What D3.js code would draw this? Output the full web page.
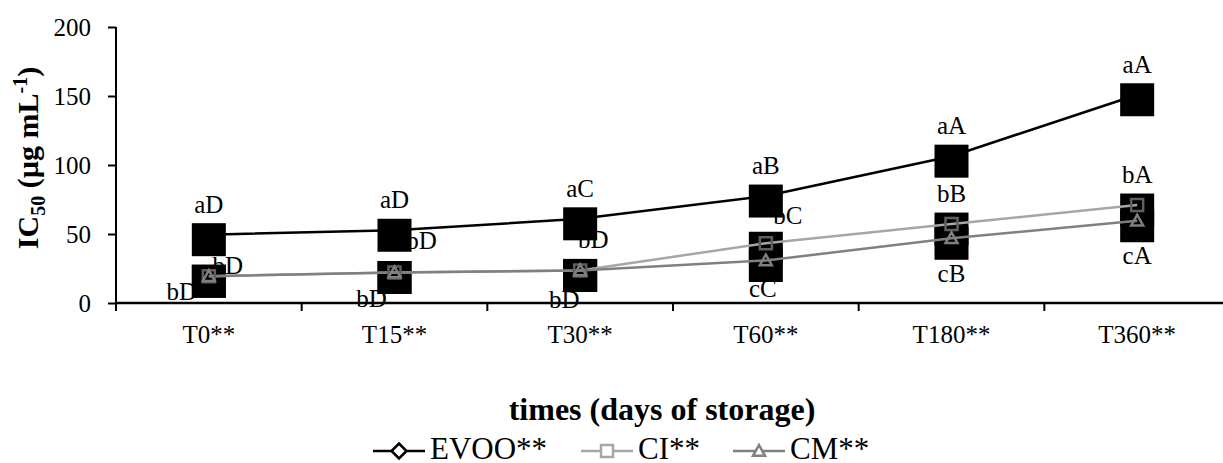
<!DOCTYPE html>
<html>
<head>
<meta charset="utf-8">
<script src="https://cdn.jsdelivr.net/npm/d3@7"></script>
<style>
  body { margin: 0; background: #fff; }
  text { font-family: "Times New Roman", "Liberation Serif", serif; fill: #000; }
</style>
</head>
<body>
<svg id="chart" width="1223" height="463"></svg>
<script>
// data
var categories = ["T0**", "T15**", "T30**", "T60**", "T180**", "T360**"];
var evoo = [49.5, 52.7, 61.0, 77.5, 106.4, 150.9];
var ci   = [19.4, 22.1, 23.6, 43.3, 57.2, 71.0];
var cm   = [19.4, 22.1, 23.6, 30.8, 46.9, 59.6];
var evooLetters = ["aD", "aD", "aC", "aB", "aA", "aA"];
var ciLetters   = ["bD", "bD", "bD", "bC", "bB", "bA"];
var cmLetters   = ["bD", "bD", "bD", "cC", "cB", "cA"];
var yTicks = [0, 50, 100, 150, 200];
var seriesNames = ["EVOO**", "CI**", "CM**"];

// label nudges (px), like the hand-moved labels in the original
var evooNudge = [[0,-22],[0,-22],[0,-22],[0,-22],[0,-22],[0,-22]];
var ciNudge   = [[19,-2],[27,-24],[13,-22],[22,-19],[0,-22],[0,-22]];
var cmNudge   = [[-27,24],[-23,34],[-16,38],[-3,37],[0,44],[0,43]];

var svg = d3.select("#chart");
var plotLeft = 116, plotRight = 1230, plotTop = 27, plotBottom = 303;

var x = d3.scaleBand().domain(categories).range([plotLeft, plotRight]).padding(0);
var y = d3.scaleLinear().domain([0, 200]).range([plotBottom, plotTop]);
var cx = function(i){ return x(categories[i]) + x.bandwidth()/2; };

var series = [
  {name: seriesNames[0], values: evoo, letters: evooLetters, nudge: evooNudge, color: "#000000", marker: "diamond"},
  {name: seriesNames[1], values: ci,   letters: ciLetters,   nudge: ciNudge,   color: "#a6a6a6", marker: "square"},
  {name: seriesNames[2], values: cm,   letters: cmLetters,   nudge: cmNudge,   color: "#808080", marker: "triangle"}
];

// data labels go underneath the black boxes
series.forEach(function(s){
  svg.append("g").selectAll("text").data(s.values).enter().append("text")
    .attr("x", function(d, i){ return cx(i) + s.nudge[i][0]; })
    .attr("y", function(d, i){ return y(d) + s.nudge[i][1]; })
    .attr("text-anchor", "middle")
    .style("font-size", "25px")
    .text(function(d, i){ return s.letters[i]; });
});

// black boxes round every point
series.forEach(function(s){
  svg.append("g").selectAll("rect").data(s.values).enter().append("rect")
    .attr("x", function(d, i){ return cx(i) - 17; })
    .attr("y", function(d){ return y(d) + 5 - 16.5; })
    .attr("width", 34).attr("height", 33)
    .attr("fill", "#000");
});

// axes
var yAxis = d3.axisLeft(y).tickValues(yTicks).tickSize(8).tickPadding(17);
var gy = svg.append("g").attr("transform", "translate(" + plotLeft + ",0)").call(yAxis);
gy.attr("font-family", null).attr("font-size", null);
gy.select(".domain").attr("stroke-width", 2).attr("d", "M0," + plotTop + "V" + plotBottom);
gy.selectAll(".tick line").attr("stroke-width", 2);
gy.selectAll(".tick text").style("font-size", "25px").attr("fill", "#000");

var tickPos = categories.map(function(c){ return x(c); }).concat([plotRight]);
var gx = svg.append("g");
gx.append("line").attr("x1", plotLeft).attr("x2", plotRight).attr("y1", plotBottom).attr("y2", plotBottom)
  .attr("stroke", "#000").attr("stroke-width", 2.5);
gx.selectAll("line.tk").data(tickPos).enter().append("line").attr("class", "tk")
  .attr("x1", function(d){ return d; }).attr("x2", function(d){ return d; })
  .attr("y1", plotBottom).attr("y2", plotBottom + 8)
  .attr("stroke", "#000").attr("stroke-width", 2);
gx.selectAll("text").data(categories).enter().append("text")
  .attr("x", function(d){ return x(d) + x.bandwidth()/2; })
  .attr("y", 343)
  .attr("text-anchor", "middle")
  .style("font-size", "25px")
  .text(function(d){ return d; });

// lines
var line = d3.line().x(function(d, i){ return cx(i); }).y(function(d){ return y(d); });
series.forEach(function(s){
  svg.append("path").datum(s.values)
    .attr("d", line)
    .attr("fill", "none")
    .attr("stroke", s.color)
    .attr("stroke-width", 2.5);
});

// markers
function markerPath(type, r){
  if(type == "diamond") return "M0," + (-r) + "L" + r + ",0L0," + r + "L" + (-r) + ",0Z";
  if(type == "square") return "M" + (-r) + "," + (-r) + "H" + r + "V" + r + "H" + (-r) + "Z";
  return "M0," + (-r) + "L" + r + "," + (r*0.8) + "H" + (-r) + "Z";
}
series.forEach(function(s){
  svg.append("g").selectAll("path").data(s.values).enter().append("path")
    .attr("transform", function(d, i){ return "translate(" + cx(i) + "," + y(d) + ")"; })
    .attr("d", markerPath(s.marker, s.marker == "diamond" ? 7 : 6))
    .attr("fill", s.marker == "diamond" ? "#000" : "none")
    .attr("stroke", s.marker == "diamond" ? "#000" : (s.marker == "square" ? "#5f5f5f" : "#7f7f7f"))
    .attr("stroke-width", 2.5);
});

// y axis title
var yt = svg.append("text")
  .attr("transform", "translate(38,158) rotate(-90)")
  .attr("text-anchor", "middle")
  .style("font-size", "30px").style("font-weight", "bold");
yt.append("tspan").text("IC");
yt.append("tspan").attr("dy", 7).style("font-size", "20px").text("50");
yt.append("tspan").attr("dy", -7).text(" (µg mL");
yt.append("tspan").attr("dy", -11).style("font-size", "20px").text("-1");
yt.append("tspan").attr("dy", 11).text(")");

// x axis title
svg.append("text")
  .attr("x", 662).attr("y", 420)
  .attr("text-anchor", "middle")
  .style("font-size", "32px").style("font-weight", "bold")
  .text("times (days of storage)");

// legend
var legendX = [373, 581, 733];
var lg = svg.append("g");
series.forEach(function(s, i){
  var g = lg.append("g").attr("transform", "translate(" + legendX[i] + ",451)");
  g.append("line").attr("x1", 0).attr("x2", 52).attr("y1", 0).attr("y2", 0)
    .attr("stroke", s.color).attr("stroke-width", 2.5);
  g.append("path").attr("transform", "translate(26,0)")
    .attr("d", markerPath(s.marker, s.marker == "diamond" ? 7.5 : 6))
    .attr("fill", "#fff").attr("stroke", s.color).attr("stroke-width", 2.5);
  g.append("text").attr("x", 57).attr("y", 8)
    .style("font-size", "31px")
    .text(s.name);
});
</script>
</body>
</html>
